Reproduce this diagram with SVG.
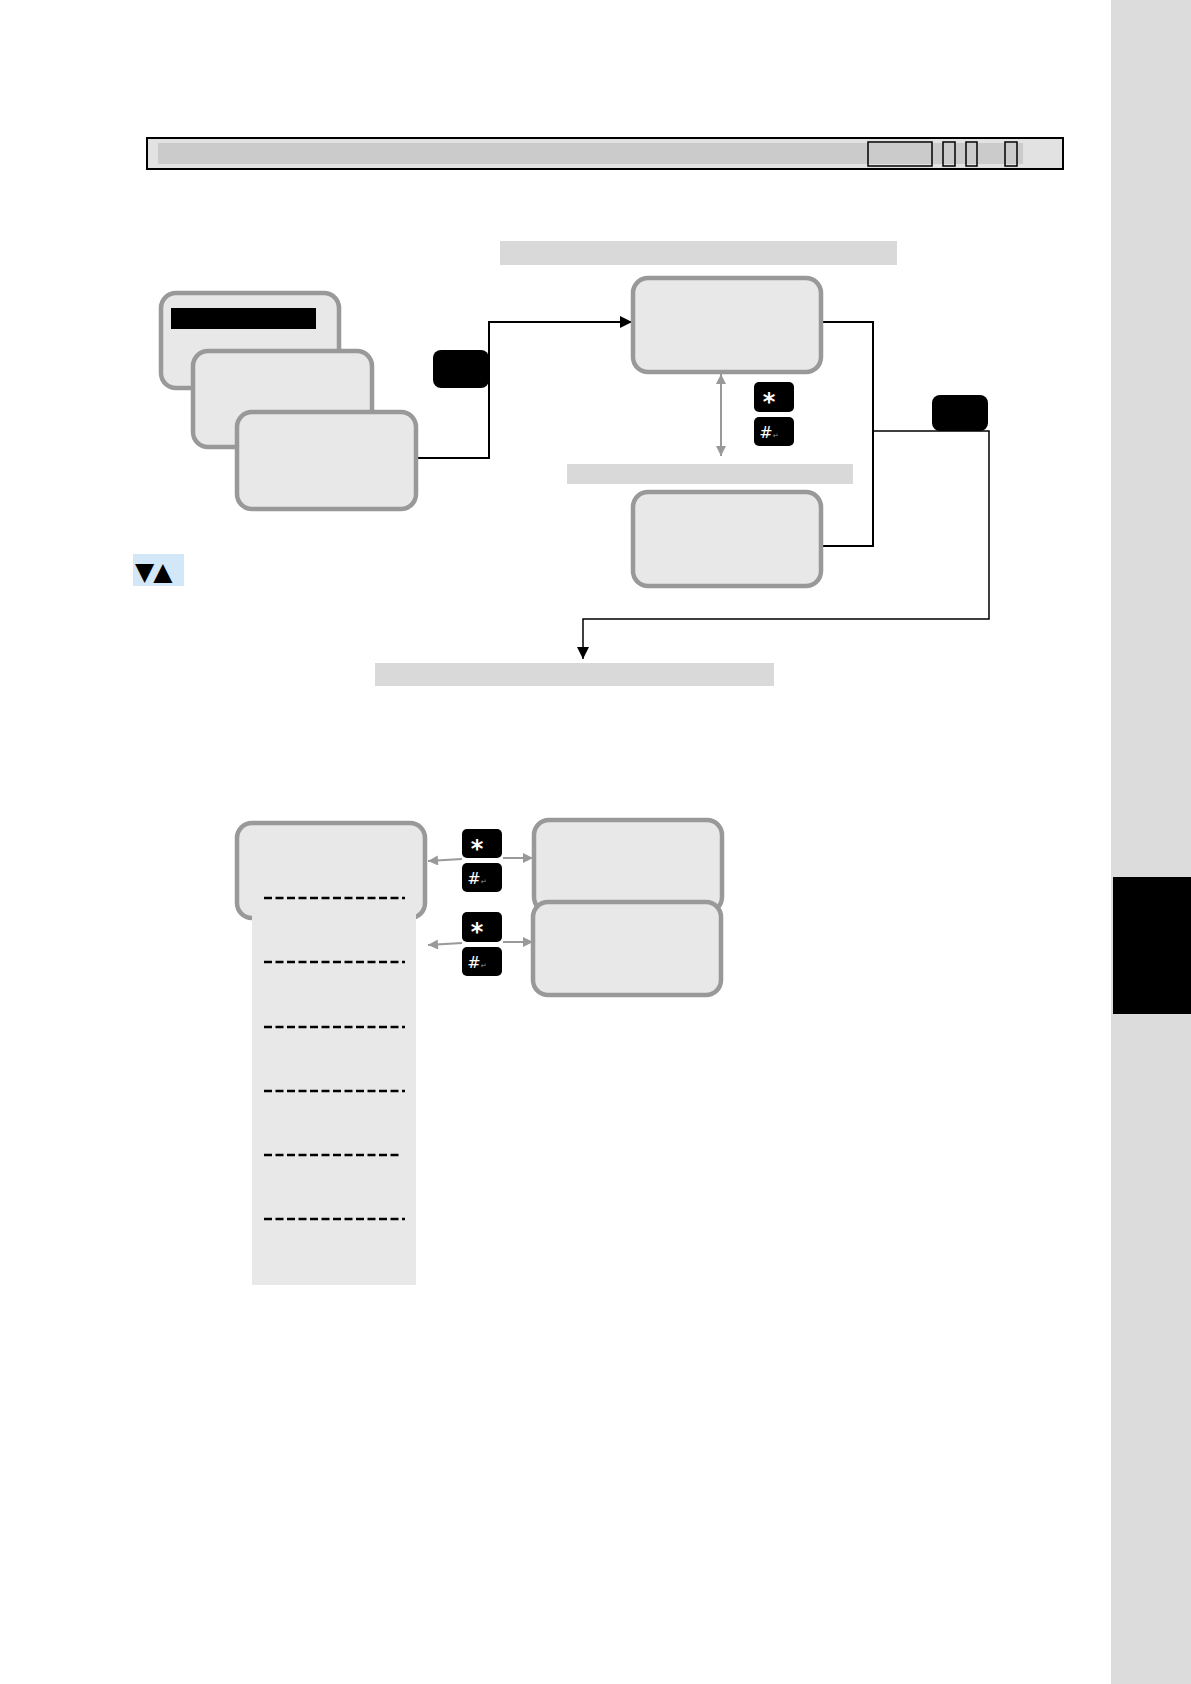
<svg xmlns="http://www.w3.org/2000/svg" width="1191" height="1684" viewBox="0 0 1191 1684">
<style>
.box{fill:#e8e8e8;stroke:#999;stroke-width:4.5}
.lbl{fill:#d9d9d9}
.key{fill:#000}
.kt{fill:#fff;font-family:"DejaVu Sans",sans-serif;text-anchor:middle}
.ret{fill:#999;font-size:7px}
.ln{fill:none;stroke:#000;stroke-width:2}
.ln1{fill:none;stroke:#000;stroke-width:1.5}
.ga{fill:none;stroke:#999;stroke-width:2}
.dash{stroke:#000;stroke-width:2.4;stroke-dasharray:8 3.5}
.hr{fill:none;stroke:#000;stroke-width:1.5}
</style>
<defs>
<marker id="ab" viewBox="0 0 10 10" refX="10" refY="5" markerWidth="13" markerHeight="12" markerUnits="userSpaceOnUse" orient="auto"><path d="M0,0L10,5L0,10z" fill="#000"/></marker>
<marker id="ag" viewBox="0 0 10 10" refX="10" refY="5" markerWidth="11" markerHeight="10" markerUnits="userSpaceOnUse" orient="auto-start-reverse"><path d="M0,0L10,5L0,10z" fill="#999"/></marker>
</defs>
<rect width="1191" height="1684" fill="#fff"/>
<!-- side strip -->
<rect id="side-strip" x="1111" y="0" width="80" height="1684" fill="#dcdcdc"/>
<rect id="side-tab" x="1113" y="877" width="78" height="137" fill="#000"/>
<!-- header -->
<g id="header">
<rect x="147" y="138" width="916" height="31" fill="#e2e2e2" stroke="#000" stroke-width="2"/>
<rect x="158" y="143" width="865" height="21" fill="#cbcbcb"/>
<rect class="hr" x="868" y="142" width="64" height="24"/>
<rect class="hr" x="943" y="142" width="12" height="24"/>
<rect class="hr" x="966" y="142" width="11" height="24"/>
<rect class="hr" x="1005" y="142" width="12" height="24"/>
</g>
<!-- connectors -->
<g id="connectors">
<polyline class="ln" points="416,458 489,458 489,322 632,322" marker-end="url(#ab)"/>
<polyline class="ln" points="821,322 873,322 873,546 821,546"/>
<polyline class="ln1" points="873,431 989,431 989,619 583,619 583,659" marker-end="url(#ab)"/>
<line class="ga" x1="721" y1="374" x2="721" y2="456" marker-start="url(#ag)" marker-end="url(#ag)"/>
<line class="ga" x1="462" y1="859" x2="428" y2="861" marker-end="url(#ag)"/>
<line class="ga" x1="503" y1="858" x2="533" y2="858" marker-end="url(#ag)"/>
<line class="ga" x1="462" y1="943" x2="428" y2="945" marker-end="url(#ag)"/>
<line class="ga" x1="503" y1="942" x2="533" y2="942" marker-end="url(#ag)"/>
</g>
<!-- stacked cards -->
<g id="card1"><rect class="box" x="161" y="293" width="178" height="95" rx="15"/><rect x="171" y="308" width="145" height="21" fill="#000"/></g>
<g id="card2"><rect class="box" x="193" y="351" width="179" height="96" rx="15"/></g>
<g id="card3"><rect class="box" x="237" y="412" width="179" height="97" rx="15"/></g>
<g id="btn-left"><rect class="key" x="433" y="350" width="56" height="38" rx="8"/></g>
<!-- labels -->
<rect id="label-top" class="lbl" x="500" y="241" width="397" height="24"/>
<rect id="label-mid" class="lbl" x="567" y="464" width="286" height="20"/>
<rect id="label-bottom" class="lbl" x="375" y="663" width="399" height="23"/>
<!-- boxes A, B -->
<g id="boxA"><rect class="box" x="633" y="278" width="188" height="94" rx="15"/></g>
<g id="boxB"><rect class="box" x="633" y="492" width="188" height="94" rx="15"/></g>
<g id="btn-right"><rect class="key" x="932" y="395" width="56" height="36" rx="8"/></g>
<g id="keys-top">
<rect class="key" x="754" y="382" width="40" height="30" rx="5"/>
<text class="kt" x="769" y="410" font-size="24" font-weight="bold">*</text>
<rect class="key" x="754" y="417" width="40" height="29" rx="5"/>
<text class="kt" x="769" y="438" font-size="16">#<tspan class="ret">↵</tspan></text>
</g>
<g id="updown"><rect x="133" y="554" width="51" height="32" fill="#d2e8f8"/><text x="135" y="580" font-family="DejaVu Sans,sans-serif" font-size="25" fill="#000" letter-spacing="-1">▼▲</text></g>
<!-- bottom section -->
<g id="boxC"><rect class="box" x="237" y="823" width="188" height="95" rx="15"/></g>
<g id="list-panel">
<rect x="252" y="906" width="164" height="379" fill="#e8e8e8"/>
<line class="dash" x1="264" y1="898" x2="405" y2="898"/>
<line class="dash" x1="264" y1="962" x2="405" y2="962"/>
<line class="dash" x1="264" y1="1027" x2="405" y2="1027"/>
<line class="dash" x1="264" y1="1091" x2="405" y2="1091"/>
<line class="dash" x1="264" y1="1155" x2="401" y2="1155"/>
<line class="dash" x1="264" y1="1219" x2="405" y2="1219"/>
</g>
<g id="boxD"><rect class="box" x="534" y="820" width="188" height="92" rx="15"/></g>
<g id="boxE"><rect class="box" x="533" y="902" width="188" height="93" rx="15"/></g>
<g id="keys-b1">
<rect class="key" x="462" y="829" width="40" height="29" rx="5"/>
<text class="kt" x="477" y="857" font-size="24" font-weight="bold">*</text>
<rect class="key" x="462" y="863" width="40" height="29" rx="5"/>
<text class="kt" x="477" y="884" font-size="16">#<tspan class="ret">↵</tspan></text>
</g>
<g id="keys-b2">
<rect class="key" x="462" y="912" width="40" height="30" rx="5"/>
<text class="kt" x="477" y="940" font-size="24" font-weight="bold">*</text>
<rect class="key" x="462" y="947" width="40" height="29" rx="5"/>
<text class="kt" x="477" y="968" font-size="16">#<tspan class="ret">↵</tspan></text>
</g>
</svg>
